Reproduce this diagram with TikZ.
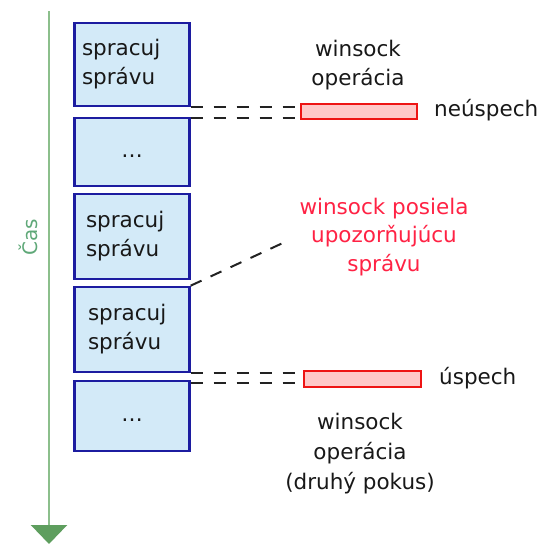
\documentclass[tikz,border=0pt]{standalone}
\usepackage{fontspec}
\setmainfont{DejaVu Sans}
\usetikzlibrary{arrows.meta,calc}
\definecolor{boxfill}{HTML}{D3EAF8}
\definecolor{boxdraw}{HTML}{1C1CA0}
\definecolor{barfill}{HTML}{FFC8C8}
\definecolor{bardraw}{HTML}{EE1414}
\definecolor{notered}{HTML}{FF2244}
\definecolor{textdark}{HTML}{181818}
\definecolor{dashgray}{HTML}{222222}
\definecolor{linegreen}{HTML}{8CBF8C}
\definecolor{tipgreen}{HTML}{5E9E5E}
\definecolor{timegreen}{HTML}{5FA878}
\begin{document}
\begin{tikzpicture}[x=1pt,y=-1pt,
  font=\fontsize{21.5}{29}\selectfont,
  box/.style={draw=boxdraw, fill=boxfill, line width=2.2pt,
    minimum width=115pt, align=left, inner ysep=0pt, text=textdark},
  bar/.style={draw=bardraw, fill=barfill, line width=2pt,
    minimum width=116pt, minimum height=15pt, inner sep=0pt},
  gap/.style={draw=dashgray, line width=2pt, dash pattern=on 12pt off 11pt},
  txt/.style={text=textdark, align=center, inner sep=0pt},
  timeline/.style={draw=linegreen, line width=2.6pt,
    -{Triangle[width=36pt,length=19pt,color=tipgreen,fill=tipgreen]}}]
\useasboundingbox (0,0) rectangle (543,544);

% time axis
\coordinate (tstart) at (49,11);
\coordinate (tend) at (49,544);
\draw[timeline] (tstart) -- (tend);
\node[text=timegreen, rotate=90, inner sep=0pt,
      font=\fontsize{20}{24}\selectfont] (cas) at (28,237) {Čas};

% processing slots
\node[box, minimum height=83pt, inner xsep=7.5pt, text width=100pt] (b1) at (132,64.5) {spracuj\\správu};
\node[box, minimum height=68pt, align=center, text width=100pt] (b2) at (132,152) {\raisebox{-11pt}{…}};
\node[box, minimum height=85pt, inner xsep=11.5pt, text width=92pt] (b3) at (132,236.5) {spracuj\\správu};
\node[box, minimum height=85pt, inner xsep=13.5pt, text width=88pt] (b4) at (132,329.3) {spracuj\\správu};
\node[box, minimum height=70pt, align=center, text width=100pt] (b5) at (132,416) {\raisebox{-11pt}{…}};

% winsock operations
\node[bar] (bar1) at (359,111.5) {};
\node[bar, minimum width=117pt, minimum height=15.5pt] (bar2) at (362,378.8) {};

\node[txt, font=\fontsize{21.5}{28.5}\selectfont] (op1) at (358,65) {winsock\\operácia};
\node[txt, anchor=base west] (fail) at (434,116.7) {neúspech};
\node[txt, anchor=base west] (ok) at (439,384.6) {úspech};
\node[txt, font=\fontsize{21.5}{30}\selectfont] (op2) at (360,454) {winsock\\operácia\\(druhý pokus)};
\node[txt, text=notered, font=\fontsize{21.5}{28.5}\selectfont] (note) at (384,237)
  {winsock posiela\\upozorňujúcu\\správu};

% links from the slots to the operations
\coordinate (g1a) at (b1.south east);
\coordinate (g1b) at ($(b1.south east)+(0,10.5)$);
\draw[gap] (g1a) -- (g1a -| bar1.west);
\draw[gap] (g1b) -- (g1b -| bar1.west);
\coordinate (g2a) at (b4.south east);
\coordinate (g2b) at ($(b4.south east)+(0,10)$);
\draw[gap] (g2a) -- (g2a -| bar2.west);
\draw[gap] (g2b) -- (g2b -| bar2.west);

\coordinate (noteend) at ($(note.west)+(-10,3)$);
\draw[gap, dash pattern=on 12pt off 10pt] (b4.north east) -- (noteend);
\end{tikzpicture}
\end{document}
